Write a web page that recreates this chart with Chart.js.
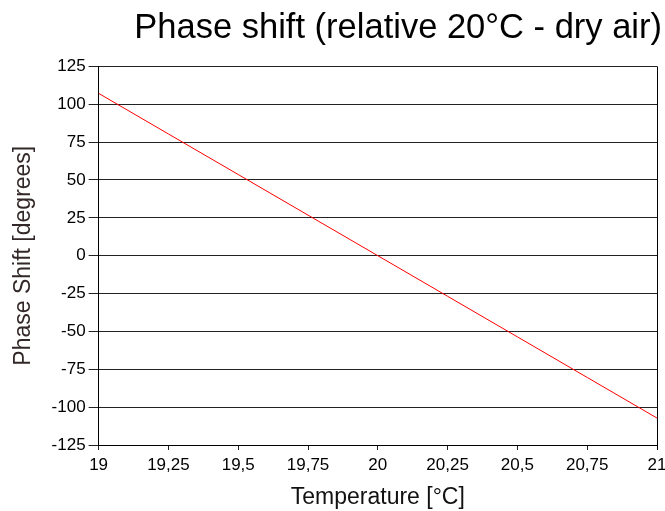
<!DOCTYPE html>
<html>
<head>
<meta charset="utf-8">
<script src="https://cdn.jsdelivr.net/npm/chart.js@4"></script>
<style>
  html, body { margin: 0; padding: 0; background: #fff; }
  #wrap { width: 665px; height: 511px; }
</style>
</head>
<body>
<div id="wrap"><canvas id="c" width="665" height="511"></canvas></div>
<script>
const titleText = "Phase shift (relative 20°C - dry air)";
const xTitle = "Temperature [°C]";
const yTitle = "Phase Shift [degrees]";
const temperatures = [19, 19.25, 19.5, 19.75, 20, 20.25, 20.5, 20.75, 21];
const phaseShift = [107.2, 80.4, 53.6, 26.8, 0, -26.8, -53.6, -80.4, -107.2];
const xRange = [19, 21, 0.25];
const yRange = [-125, 125, 25];

const FONT = "'Liberation Sans', Arial, sans-serif";
const fmt = v => String(Math.round(v * 100) / 100).replace('.', ',');

const rightFrame = {
  id: 'rightFrame',
  afterDraw(chart) {
    const a = chart.chartArea, ctx = chart.ctx;
    ctx.save();
    ctx.strokeStyle = '#000';
    ctx.lineWidth = 1;
    ctx.beginPath();
    ctx.moveTo(Math.round(a.right) + 0.5, a.top);
    ctx.lineTo(Math.round(a.right) + 0.5, a.bottom + 5);
    ctx.stroke();
    ctx.restore();
  }
};

new Chart(document.getElementById('c'), {
  type: 'line',
  data: {
    datasets: [{
      data: temperatures.map((t, i) => ({ x: t, y: phaseShift[i] })),
      borderColor: '#ff0000',
      borderWidth: 1,
      pointRadius: 0,
      tension: 0,
      fill: false
    }]
  },
  options: {
    responsive: false,
    animation: false,
    devicePixelRatio: 1,
    layout: { padding: { left: 10, right: 3, top: 0, bottom: 0 } },
    plugins: {
      legend: { display: false },
      tooltip: { enabled: false },
      title: {
        display: true,
        text: titleText,
        align: 'end',
        color: '#000',
        font: { family: FONT, size: 34.5, weight: 'normal' },
        padding: { top: 8, bottom: 17 }
      }
    },
    scales: {
      x: {
        type: 'linear',
        min: xRange[0], max: xRange[1],
        ticks: {
          stepSize: xRange[2],
          color: '#000',
          font: { family: FONT, size: 17 },
          padding: 5,
          maxRotation: 0,
          autoSkip: false,
          callback: v => fmt(v)
        },
        grid: { drawOnChartArea: false, drawTicks: true, tickLength: 5, color: '#222' },
        border: { display: true, color: '#000' },
        title: {
          display: true, text: xTitle, color: '#111',
          font: { family: FONT, size: 23 },
          padding: { top: 3, bottom: 0 }
        },
        afterFit: s => { s.paddingRight = 8; }
      },
      y: {
        type: 'linear',
        min: yRange[0], max: yRange[1],
        ticks: {
          stepSize: yRange[2],
          color: '#000',
          font: { family: FONT, size: 17 },
          padding: 3,
          callback: v => fmt(v)
        },
        grid: { drawOnChartArea: true, drawTicks: true, tickLength: 10, color: '#222' },
        border: { display: true, color: '#000' },
        title: {
          display: true, text: yTitle, color: '#332828',
          font: { family: FONT, size: 23 },
          padding: { top: 0, bottom: 11 }
        }
      }
    }
  },
  plugins: [rightFrame]
});
</script>
</body>
</html>
